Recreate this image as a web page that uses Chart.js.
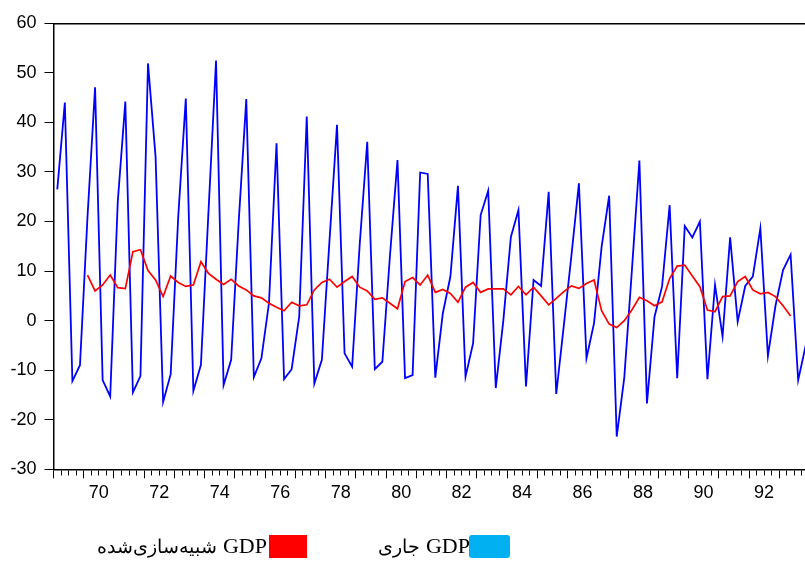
<!DOCTYPE html>
<html lang="fa">
<head>
    <meta charset="UTF-8">
    <title>GDP جاری و شبیه‌سازی‌شده</title>
    <script src="https://cdn.jsdelivr.net/npm/chart.js"></script>
    <style>
        /* فونت فارسی محلی کمی کوچک‌تر، تا پهنای متن مثل تصویر اصلی شود */
        @font-face {
            font-family: 'PersianLocal';
            src: local('DejaVu Sans');
            unicode-range: U+0600-06FF, U+200C-200D, U+FB50-FDFF, U+FE70-FEFF;
            size-adjust: 88%;
        }
        html, body {
            margin: 0;
            padding: 0;
            width: 805px;
            height: 561px;
            overflow: hidden;
            background: #ffffff;
        }
        .chart-box {
            position: absolute;
            left: 0;
            top: 0;
            width: 815px;   /* the plot runs a little past the right edge, as in the original */
            height: 515px;
        }
        .legend {
            position: absolute;
            left: 0;
            top: 0;
            width: 805px;
            height: 561px;
            font-family: 'Liberation Serif', 'PersianLocal', 'Times New Roman', serif;
            font-size: 22px;
            color: #000;
        }
        .legend .swatch {
            position: absolute;
            top: 535px;
            height: 23px;
        }
        .legend .label {
            position: absolute;
            top: 535px;
            line-height: 1;
            direction: rtl;
            white-space: nowrap;
        }
    </style>
</head>
<body>
    <div class="chart-box">
        <canvas id="gdpChart" width="815" height="515"></canvas>
    </div>
    <div class="legend" id="legend"></div>

    <script>
        // فصل‌ها: 69Q1 تا 93Q4
        const firstYear = 69;
        const yearCount = 25;
        const periods = [];
        for (let y = firstYear; y < firstYear + yearCount; y++) {
            for (let q = 1; q <= 4; q++) periods.push(y + 'Q' + q);
        }

        // GDP جاری (آبی)
        const gdpActual = [
            26.5, 44.0, -12.2, -9.0,   21.0, 47.1, -12.0, -15.3,
            24.0, 44.2, -14.5, -11.2,  51.9, 33.1, -16.4, -10.8,
            21.0, 44.8, -14.2, -8.9,   22.0, 52.5, -13.0, -7.9,
            20.0, 44.7, -11.4, -7.6,   3.5, 35.8, -11.8, -9.8,
            0.8, 41.2, -12.7, -7.9,    16.0, 39.5, -6.6, -9.3,
            15.3, 36.1, -9.8, -8.3,    13.0, 32.4, -11.6, -11.0,
            29.9, 29.6, -11.5, 1.5,    8.9, 27.2, -11.3, -4.6,
            21.3, 26.2, -13.6, 0.0,    16.9, 22.3, -13.3, 8.2,
            7.0, 26.0, -14.8, -1.0,    13.0, 27.7, -7.6, -0.5,
            14.9, 25.2, -23.4, -11.5,  10.0, 32.3, -16.7, 0.8,
            6.9, 23.3, -11.6, 19.1,    16.8, 20.0, -11.8, 7.2,
            -3.2, 16.8, -0.2, 7.0,     8.9, 18.6, -7.1, 3.0,
            10.2, 13.3, -12.0, -5.0
        ];

        // GDP شبیه‌سازی‌شده (قرمز) — از 70Q1 تا 93Q2
        const gdpSimulated = [
            null, null, null, null,
            9.2, 6.0, 7.2, 9.2,     6.65, 6.45, 13.9, 14.3,
            10.1, 8.2, 4.85, 9.0,   7.7, 6.9, 7.2, 11.9,
            9.55, 8.35, 7.3, 8.35,  7.0, 6.2, 5.0, 4.6,
            3.5, 2.7, 2.0, 3.7,     3.0, 3.2, 6.2, 7.7,
            8.35, 6.75, 7.9, 8.9,   6.75, 6.0, 4.3, 4.6,
            3.5, 2.4, 7.9, 8.7,     7.2, 9.2, 5.7, 6.3,
            5.5, 3.7, 6.75, 7.7,    5.7, 6.4, 6.4, 6.4,
            5.2, 6.9, 5.2, 6.75,    5.0, 3.2, 4.5, 5.85,
            7.0, 6.5, 7.5, 8.2,     2.0, -0.7, -1.4, 0.0,
            2.15, 4.7, 4.0, 3.0,    3.8, 8.5, 11.0, 11.2,
            9.0, 6.85, 2.15, 1.8,   4.85, 5.0, 7.9, 8.9,
            6.2, 5.4, 5.7, 4.85,    3.0, 0.95,
            null, null
        ];

        const xTickLabels = ['70', '72', '74', '76', '78', '80', '82', '84', '86', '88', '90', '92'];
        const yTickValues = [-30, -20, -10, 0, 10, 20, 30, 40, 50, 60];
        const seriesNames = ['GDP جاری', 'GDP شبیه‌سازی‌شده'];

        // موقعیت هر فصل روی محور: وسط بازه‌ی همان فصل
        function periodToX(p) {
            const parts = p.split('Q');
            return Number(parts[0]) + (Number(parts[1]) - 0.5) / 4;
        }

        const tickFont = { family: "'Liberation Sans', Arial, sans-serif", size: 18 };
        const axisColor = '#000000';

        const ctx = document.getElementById('gdpChart').getContext('2d');
        const gdpChart = new Chart(ctx, {
            type: 'line',
            data: {
                datasets: [
                    {
                        label: seriesNames[0],
                        data: periods.map((p, i) => ({ x: periodToX(p), y: gdpActual[i] })),
                        borderColor: '#0000ff',
                        borderWidth: 1.8,
                        pointRadius: 0,
                        tension: 0,
                        order: 2
                    },
                    {
                        label: seriesNames[1],
                        data: periods.map((p, i) => ({ x: periodToX(p), y: gdpSimulated[i] })),
                        borderColor: '#ff0000',
                        borderWidth: 1.7,
                        pointRadius: 0,
                        tension: 0,
                        spanGaps: false,
                        order: 1
                    }
                ]
            },
            options: {
                responsive: false,
                animation: false,
                layout: { padding: { top: 23.3, right: 5.5, left: 0, bottom: 0 } },
                plugins: {
                    legend: { display: false },
                    tooltip: { enabled: false }
                },
                scales: {
                    x: {
                        type: 'linear',
                        position: 'bottom',
                        min: firstYear,
                        max: firstYear + yearCount,
                        afterBuildTicks: (scale) => {
                            const ticks = [];
                            for (let v = firstYear; v <= firstYear + yearCount; v += 0.25) ticks.push({ value: v });
                            scale.ticks = ticks;
                        },
                        afterFit: (scale) => { scale.height = 45.7; },
                        ticks: {
                            autoSkip: false,
                            maxRotation: 0,
                            labelOffset: 15,   // نیم‌سال: برچسب وسط سال
                            padding: 4,
                            color: '#000',
                            font: tickFont,
                            callback: (value) => xTickLabels.includes(String(value)) ? String(value) : ''
                        },
                        grid: {
                            drawOnChartArea: false,
                            tickLength: 9,
                            tickColor: axisColor,
                            tickWidth: 1,
                            // تیک‌های فصلی کوتاه‌تر از تیک‌های سالانه
                            tickBorderDash: (c) => (c.tick && Number.isInteger(c.tick.value)) ? [] : [5, 40]
                        },
                        border: { color: axisColor, width: 1.5 }
                    },
                    xTop: {
                        type: 'linear',
                        position: 'top',
                        afterFit: (scale) => { scale.height = 0; },
                        ticks: { display: false },
                        grid: { drawOnChartArea: false, drawTicks: false },
                        border: { color: axisColor, width: 1.5 }
                    },
                    y: {
                        min: -30,
                        max: 60,
                        afterBuildTicks: (scale) => {
                            scale.ticks = yTickValues.map(v => ({ value: v }));
                        },
                        afterFit: (scale) => { scale.width = 53.5; },
                        ticks: {
                            padding: 8,
                            color: '#000',
                            font: tickFont
                        },
                        grid: {
                            drawOnChartArea: false,
                            tickLength: 9,
                            tickColor: axisColor
                        },
                        border: { color: axisColor, width: 1.5 }
                    }
                }
            }
        });

        // راهنما (مثل تصویر اصلی: متن سمت چپ مربع رنگی)
        const legendItems = [
            { name: seriesNames[1], color: '#ff0000', boxLeft: 269, boxWidth: 38, textRight: 267, radius: 0 },
            { name: seriesNames[0], color: '#00b0f0', boxLeft: 469, boxWidth: 41, textRight: 470, radius: 3 }
        ];
        const legend = document.getElementById('legend');
        legendItems.forEach(item => {
            const label = document.createElement('span');
            label.className = 'label';
            label.textContent = item.name;
            label.style.right = (805 - item.textRight) + 'px';
            legend.appendChild(label);

            const box = document.createElement('span');
            box.className = 'swatch';
            box.style.left = item.boxLeft + 'px';
            box.style.width = item.boxWidth + 'px';
            box.style.background = item.color;
            box.style.borderRadius = item.radius + 'px';
            legend.appendChild(box);
        });
    </script>
</body>
</html>
